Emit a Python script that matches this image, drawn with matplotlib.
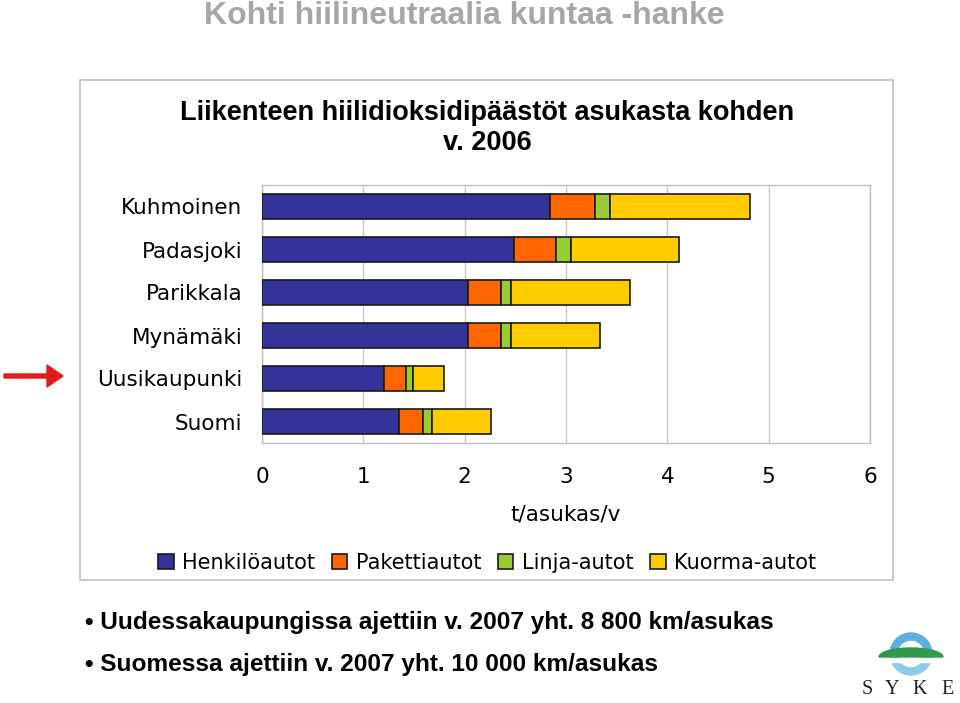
import matplotlib
matplotlib.use("Agg")
import matplotlib.pyplot as plt
from matplotlib.patches import Rectangle, Wedge, Polygon
import numpy as np

# data (t CO2 / asukas / v, 2006)
kunnat = ["Kuhmoinen", "Padasjoki", "Parikkala", "Mynämäki", "Uusikaupunki", "Suomi"]
henkiloautot = [2.84, 2.49, 2.03, 2.03, 1.20, 1.35]
pakettiautot = [0.45, 0.41, 0.33, 0.33, 0.22, 0.24]
linja_autot = [0.14, 0.15, 0.10, 0.10, 0.07, 0.09]
kuorma_autot = [1.39, 1.07, 1.17, 0.88, 0.31, 0.58]
sarjat = ["Henkilöautot", "Pakettiautot", "Linja-autot", "Kuorma-autot"]
varit = ["#333399", "#ff6600", "#99cc33", "#ffcc00"]
x_ticks = [0, 1, 2, 3, 4, 5, 6]

W, H = 960, 703
def box(x0, y0, x1, y1):
    # pixel box (top-left origin) -> figure fraction rect
    return [x0 / W, 1 - y1 / H, (x1 - x0) / W, (y1 - y0) / H]

plt.rcParams['font.family'] = ['DejaVu Sans']
fig = plt.figure(figsize=(9.6, 7.03), dpi=100)

fig.text(464 / W, 1 - 16 / H, "Kohti hiilineutraalia kuntaa -hanke", ha="center", va="center",
         fontsize=23, fontweight="bold", color="#a6a6a6", family="Liberation Sans")

# outer chart frame
fig.patches.append(Rectangle((80 / W, 1 - 580 / H), 813 / W, 500 / H, transform=fig.transFigure,
                             fill=False, edgecolor="#c0c0c0", linewidth=1.2))

fig.text(487 / W, 1 - 128 / H, "Liikenteen hiilidioksidipäästöt asukasta kohden\nv. 2006",
         ha="center", va="center", fontsize=19.5, fontweight="bold", family="Liberation Sans",
         linespacing=1.25)

ax = fig.add_axes(box(262, 185, 870, 443))
y = np.arange(len(kunnat))
left = np.zeros(len(kunnat))
for name, vals, c in zip(sarjat, [henkiloautot, pakettiautot, linja_autot, kuorma_autot], varit):
    ax.barh(y, vals, left=left, height=0.6, color=c, edgecolor="#1a1a1a", linewidth=1.2,
            label=name, zorder=3)
    left += np.array(vals)

ax.set_xlim(0, 6)
ax.set_ylim(len(kunnat) - 0.5, -0.5)
ax.set_xticks(x_ticks)
ax.set_yticks(y)
ax.set_yticklabels(kunnat)
ax.tick_params(axis="both", length=0, labelsize=15.5)
ax.tick_params(axis="y", pad=14)
ax.tick_params(axis="x", pad=17)
ax.grid(axis="x", color="#c8c8c8", linewidth=1.0, zorder=0)
for s in ax.spines.values():
    s.set_color("#c0c0c0")
    s.set_linewidth(1.0)
ax.set_xlabel("t/asukas/v", fontsize=15.5, labelpad=13)

leg = fig.legend(loc="center", bbox_to_anchor=(487 / W, 1 - 563 / H), ncol=4, frameon=False,
                 fontsize=15, handlelength=0.75, handleheight=0.75, handletextpad=0.4,
                 columnspacing=0.8)

# arrow pointing at Uusikaupunki
fig.patches.append(matplotlib.patches.FancyArrow(4 / W, 1 - 376 / H, 43 / W, 0, width=4 / H,
                   head_width=22 / H, head_length=16 / W, length_includes_head=False,
                   color="#e31b1b", transform=fig.transFigure))

fig.text(85 / W, 1 - 622 / H, "• Uudessakaupungissa ajettiin v. 2007 yht. 8 800 km/asukas",
         ha="left", va="center", fontsize=17.6, fontweight="bold", family="Liberation Sans")
fig.text(85 / W, 1 - 665 / H, "• Suomessa ajettiin v. 2007 yht. 10 000 km/asukas",
         ha="left", va="center", fontsize=17.6, fontweight="bold", family="Liberation Sans")

# SYKE logo (1 data unit = 1 pixel, origin at pixel (860, 703))
lax = fig.add_axes(box(860, 625, 960, 703))
lax.set_xlim(0, 100)
lax.set_ylim(0, 78)
lax.axis("off")
cx, cy = 51, 49
lax.add_patch(Wedge((cx, cy), 21, 0, 180, width=7, color="#5aaee0"))
lax.add_patch(Wedge((cx, cy), 21, 180, 360, width=7, color="#8ccbea"))
lax.add_patch(Rectangle((cx - 30, 41), 60, 4, color="white"))
t = np.linspace(0, np.pi, 40)
hill = np.column_stack([cx + 32 * np.cos(t), 46 + 9 * np.sin(t)])
lax.add_patch(Polygon(hill, closed=True, color="#2e9a4a"))
for letter, lx in zip("SYKE", [7, 32, 59.5, 87.5]):
    lax.text(lx, 13, letter, ha="center", va="center", fontsize=14.5, family="Liberation Serif",
             color="#222222")

fig.savefig("out.png", dpi=100)
